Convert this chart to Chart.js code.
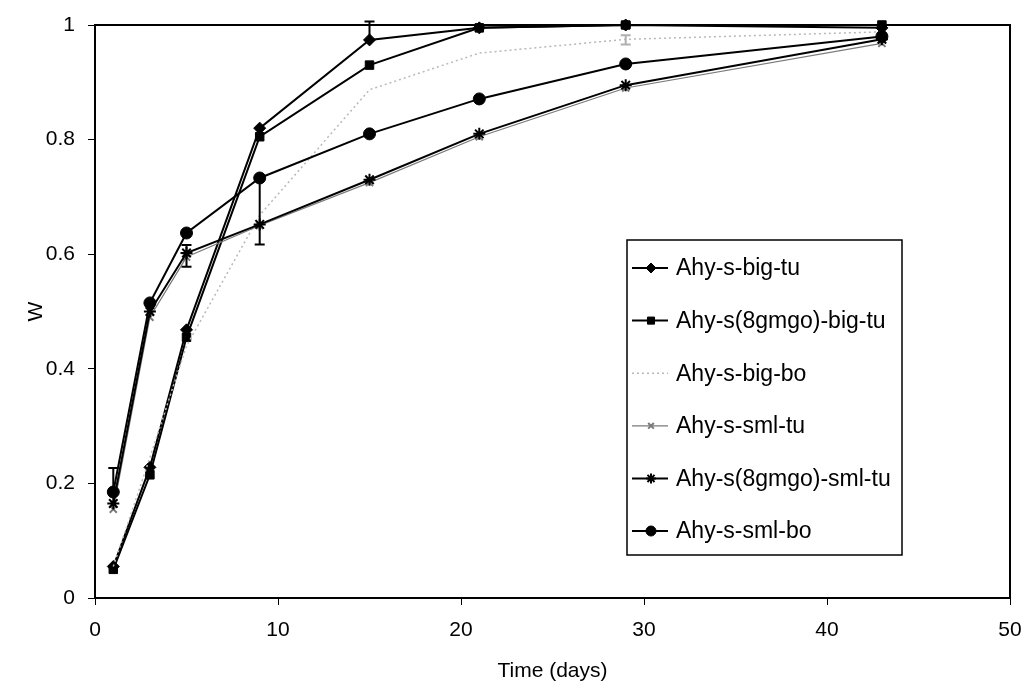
<!DOCTYPE html>
<html>
<head>
<meta charset="utf-8">
<script src="https://cdn.jsdelivr.net/npm/chart.js@4/dist/chart.umd.min.js"></script>
<style>
  html, body { margin: 0; padding: 0; background: #fff; }
  #wrap { width: 1028px; height: 693px; position: relative; }
</style>
</head>
<body>
<div id="wrap"><canvas id="c" width="1028" height="693"></canvas></div>
<script>
// ---- Data ----
const days = [1, 3, 5, 9, 15, 21, 29, 43];
const seriesNames = ["Ahy-s-big-tu", "Ahy-s(8gmgo)-big-tu", "Ahy-s-big-bo", "Ahy-s-sml-tu", "Ahy-s(8gmgo)-sml-tu", "Ahy-s-sml-bo"];
const bigTu      = [0.055, 0.228, 0.468, 0.820, 0.974, 0.995, 1.000, 0.995];
const gmgoBigTu  = [0.050, 0.215, 0.455, 0.805, 0.930, 0.995, 1.000, 1.000];
const bigBo      = [0.055, 0.245, 0.440, 0.668, 0.887, 0.951, 0.975, 0.988];
const smlTu      = [0.155, 0.490, 0.595, 0.650, 0.725, 0.805, 0.890, 0.968];
const gmgoSmlTu  = [0.165, 0.500, 0.602, 0.652, 0.730, 0.810, 0.895, 0.975];
const smlBo      = [0.185, 0.515, 0.637, 0.733, 0.810, 0.871, 0.932, 0.980];
// error bars (low / high), null where none is drawn
const bigTuErrLow      = [null, null, null, null, 0.974, null, null, null];
const bigTuErrHigh     = [null, null, null, null, 1.006, null, null, null];
const gmgoBigTuErrLow  = [null, null, null, null, null, null, 0.995, null];
const gmgoBigTuErrHigh = [null, null, null, null, null, null, 1.005, null];
const bigBoErrLow      = [null, null, null, null, null, null, 0.966, null];
const bigBoErrHigh     = [null, null, null, null, null, null, 0.982, null];
const gmgoSmlTuErrLow  = [null, null, 0.578, null, null, null, null, null];
const gmgoSmlTuErrHigh = [null, null, 0.616, null, null, null, null, null];
const smlBoErrLow      = [0.185, null, null, 0.617, null, null, null, null];
const smlBoErrHigh     = [0.227, null, null, 0.733, null, null, null, null];
const xTicks = [0, 10, 20, 30, 40, 50];
const yTicks = [0, 0.2, 0.4, 0.6, 0.8, 1];

const FONT = "'Liberation Sans', Arial, Helvetica, sans-serif";

function pts(arr) { return days.map((d, i) => ({ x: d, y: arr[i] })); }

const styles = [
  { color: '#000', width: 2, pointStyle: 'rectRot', radius: 6, dash: [], err: [bigTuErrLow, bigTuErrHigh], errColor: '#000' },
  { color: '#000', width: 2, pointStyle: 'rect', radius: 6, dash: [], err: [gmgoBigTuErrLow, gmgoBigTuErrHigh], errColor: '#000' },
  { color: '#b8b8b8', width: 1.5, pointStyle: false, radius: 0, dash: [2, 3], err: [bigBoErrLow, bigBoErrHigh], errColor: '#b0b0b0' },
  { color: '#7a7a7a', width: 1.2, pointStyle: 'crossRot', radius: 5, dash: [], err: null },
  { color: '#000', width: 2, pointStyle: 'star', radius: 6, dash: [], err: [gmgoSmlTuErrLow, gmgoSmlTuErrHigh], errColor: '#000' },
  { color: '#000', width: 2, pointStyle: 'circle', radius: 6, dash: [], err: [smlBoErrLow, smlBoErrHigh], errColor: '#000' }
];
const values = [bigTu, gmgoBigTu, bigBo, smlTu, gmgoSmlTu, smlBo];

const datasets = values.map((v, i) => ({
  label: seriesNames[i],
  data: pts(v),
  borderColor: styles[i].color,
  backgroundColor: styles[i].color,
  borderWidth: styles[i].width,
  borderDash: styles[i].dash,
  pointStyle: styles[i].pointStyle,
  pointRadius: styles[i].radius,
  pointBorderWidth: styles[i].pointStyle === 'star' || styles[i].pointStyle === 'crossRot' ? 2 : 1,
  pointBackgroundColor: styles[i].color,
  pointBorderColor: styles[i].color,
  tension: 0,
  clip: false,
  order: 6 - i
}));

const framePlugin = {
  id: 'frame',
  beforeDatasetsDraw(chart) {
    const { ctx, chartArea: a } = chart;
    ctx.save();
    ctx.strokeStyle = '#000';
    ctx.lineWidth = 2;
    ctx.strokeRect(a.left, a.top, a.right - a.left, a.bottom - a.top);
    ctx.restore();
  }
};

const errorPlugin = {
  id: 'errbars',
  afterDatasetsDraw(chart) {
    const { ctx } = chart;
    const xs = chart.scales.x, ys = chart.scales.y;
    ctx.save();
    styles.forEach((s, i) => {
      if (!s.err) return;
      const [lo, hi] = s.err;
      ctx.strokeStyle = s.errColor;
      ctx.lineWidth = 2;
      days.forEach((d, j) => {
        if (lo[j] == null) return;
        const px = xs.getPixelForValue(d);
        const y1 = ys.getPixelForValue(lo[j]);
        const y2 = ys.getPixelForValue(hi[j]);
        ctx.beginPath();
        ctx.moveTo(px, y1); ctx.lineTo(px, y2);
        ctx.moveTo(px - 5, y1); ctx.lineTo(px + 5, y1);
        ctx.moveTo(px - 5, y2); ctx.lineTo(px + 5, y2);
        ctx.stroke();
      });
    });
    ctx.restore();
  }
};

const legendPlugin = {
  id: 'boxLegend',
  afterDraw(chart) {
    const { ctx } = chart;
    const bx = 627, by = 240, bw = 275, bh = 315;
    ctx.save();
    ctx.fillStyle = '#fff';
    ctx.fillRect(bx, by, bw, bh);
    ctx.strokeStyle = '#000';
    ctx.lineWidth = 1.5;
    ctx.strokeRect(bx, by, bw, bh);
    ctx.font = "23px " + FONT;
    ctx.textBaseline = 'middle';
    ctx.textAlign = 'left';
    seriesNames.forEach((name, i) => {
      const cy = 268 + i * 52.6;
      const s = styles[i];
      ctx.strokeStyle = s.color;
      ctx.lineWidth = s.width;
      ctx.setLineDash(s.dash);
      ctx.beginPath();
      ctx.moveTo(632, cy); ctx.lineTo(668, cy);
      ctx.stroke();
      ctx.setLineDash([]);
      if (s.pointStyle) {
        ctx.fillStyle = s.color;
        ctx.lineWidth = (s.pointStyle === 'star' || s.pointStyle === 'crossRot') ? 2 : 1;
        Chart.helpers.drawPoint(ctx, { pointStyle: s.pointStyle, radius: s.radius - 1, borderWidth: 1, rotation: 0 }, 651, cy);
      }
      ctx.fillStyle = '#000';
      ctx.fillText(name, 676, cy + 1);
    });
    ctx.restore();
  }
};

new Chart(document.getElementById('c'), {
  type: 'line',
  data: { datasets },
  options: {
    responsive: false,
    animation: false,
    events: [],
    layout: { padding: { left: 0, top: 25, right: 18, bottom: 0 } },
    plugins: { legend: { display: false }, tooltip: { enabled: false } },
    scales: {
      x: {
        type: 'linear', min: 0, max: 50,
        afterBuildTicks(s) { s.ticks = xTicks.map(v => ({ value: v })); },
        afterFit(s) { s.height = 95; s.paddingLeft = 0; s.paddingRight = 0; },
        border: { display: false },
        grid: { drawOnChartArea: false, drawTicks: true, tickLength: 7, color: '#000', lineWidth: 1 },
        ticks: { color: '#000', font: { family: FONT, size: 21 }, padding: 13, maxRotation: 0 },
        title: { display: true, text: 'Time (days)', color: '#000', font: { family: FONT, size: 21 }, padding: { top: 10, bottom: 9 } }
      },
      y: {
        type: 'linear', min: 0, max: 1,
        afterBuildTicks(s) { s.ticks = yTicks.map(v => ({ value: v })); },
        afterFit(s) { s.width = 95; s.paddingTop = 0; s.paddingBottom = 0; },
        border: { display: false },
        grid: { drawOnChartArea: false, drawTicks: true, tickLength: 7, color: '#000', lineWidth: 1 },
        ticks: { color: '#000', font: { family: FONT, size: 21 }, padding: 13, callback: v => String(v) },
        title: { display: true, text: 'W', color: '#000', font: { family: FONT, size: 21 }, padding: { top: 24, bottom: 0 } }
      }
    }
  },
  plugins: [framePlugin, errorPlugin, legendPlugin]
});
</script>
</body>
</html>
